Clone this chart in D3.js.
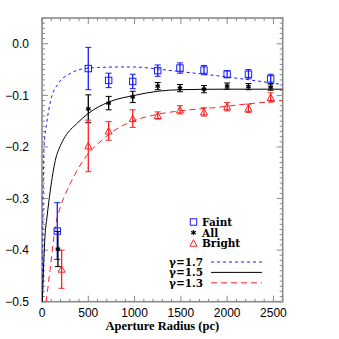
<!DOCTYPE html>
<html>
<head>
<meta charset="utf-8">
<script src="https://cdn.jsdelivr.net/npm/d3@7"></script>
<style>
  body { margin: 0; background: #fff; }
  svg { display: block; }
</style>
</head>
<body>
<script>
const WIDTH = 339;
const HEIGHT = 339;

// measured points: aperture radius (pc), value, error
const faintR = [165, 500, 720, 980, 1250, 1490, 1750, 2000, 2230, 2470];
const faintV = [-0.363, -0.048, -0.071, -0.073, -0.052, -0.047, -0.051, -0.059, -0.059, -0.068];
const faintE = [0.055, 0.041, 0.014, 0.014, 0.011, 0.010, 0.009, 0.007, 0.009, 0.009];

const allR = [172, 500, 720, 980, 1250, 1490, 1750, 2000, 2230, 2470];
const allV = [-0.398, -0.126, -0.115, -0.103, -0.082, -0.086, -0.088, -0.082, -0.083, -0.084];
const allE = [0.034, 0.027, 0.013, 0.011, 0.007, 0.007, 0.007, 0.006, 0.006, 0.006];

const brightR = [212, 500, 720, 980, 1250, 1490, 1750, 2000, 2230, 2470];
const brightV = [-0.437, -0.198, -0.169, -0.145, -0.139, -0.128, -0.132, -0.122, -0.125, -0.104];
const brightE = [0.037, 0.050, 0.018, 0.017, 0.007, 0.008, 0.008, 0.008, 0.008, 0.009];

// model curves
const g17R = [5, 8, 12, 22, 50, 94, 176, 302, 428, 600, 800, 1000, 1250, 1500, 1850, 2200, 2600];
const g17V = [-0.5, -0.4, -0.3, -0.2, -0.155, -0.110, -0.077, -0.058, -0.049, -0.046, -0.045, -0.045, -0.049, -0.054, -0.061, -0.069, -0.079];

const g15R = [4, 20, 32, 54, 90, 144, 200, 250, 374, 500, 720, 1000, 1250, 1500, 2000, 2600];
const g15V = [-0.5, -0.42, -0.374, -0.336, -0.284, -0.226, -0.197, -0.180, -0.155, -0.135, -0.113, -0.100, -0.092, -0.089, -0.088, -0.088];

const g13R = [45, 86, 144, 197, 269, 359, 485, 647, 733, 950, 1240, 1490, 1850, 2200, 2600];
const g13V = [-0.5, -0.44, -0.355, -0.317, -0.285, -0.252, -0.216, -0.187, -0.174, -0.152, -0.137, -0.130, -0.124, -0.117, -0.110];

const xTicks = [0, 500, 1000, 1500, 2000, 2500];
const yTicks = [0.0, -0.1, -0.2, -0.3, -0.4, -0.5];

const BLUE = "#1a1aff", RED = "#ff2020", BLACK = "#000";
const FRAME = "#8a8a8a";

const svg = d3.select("body").append("svg").attr("width", WIDTH).attr("height", HEIGHT);

const X0 = 42, X1 = 282.7, Y0 = 18, Y1 = 301.7;
const x = d3.scaleLinear().domain([0, 2600]).range([X0, X1]);
const y = d3.scaleLinear().domain([-0.5, 0.05]).range([Y1, Y0]);

svg.append("defs").append("clipPath").attr("id", "plotclip")
  .append("rect").attr("x", X0).attr("y", Y0).attr("width", X1 - X0).attr("height", Y1 - Y0);

// frame + ticks
const axisG = svg.append("g").attr("stroke", FRAME).attr("stroke-width", 1);
axisG.append("rect").attr("x", X0).attr("y", Y0).attr("width", X1 - X0).attr("height", Y1 - Y0)
  .attr("fill", "none").attr("stroke-width", 1.6);

d3.range(0, 2601, 100).forEach(function(v) {
  const len = (v % 500 == 0) ? 6 : 3;
  axisG.append("line").attr("x1", x(v)).attr("x2", x(v)).attr("y1", Y1).attr("y2", Y1 - len);
  axisG.append("line").attr("x1", x(v)).attr("x2", x(v)).attr("y1", Y0).attr("y2", Y0 + len);
});
d3.range(-50, 6).forEach(function(i) {
  const v = i / 100;
  const len = (i % 10 == 0) ? 6 : 3;
  axisG.append("line").attr("y1", y(v)).attr("y2", y(v)).attr("x1", X0).attr("x2", X0 + len);
  axisG.append("line").attr("y1", y(v)).attr("y2", y(v)).attr("x1", X1).attr("x2", X1 - len);
});

// tick labels
svg.append("g").selectAll("text").data(xTicks).enter().append("text")
  .attr("x", function(d) { return x(d); })
  .attr("y", Y1 + 14.8)
  .attr("text-anchor", "middle")
  .attr("font-family", "Liberation Sans, Arial, sans-serif")
  .attr("font-size", 12)
  .text(function(d) { return d; });

svg.append("g").selectAll("text").data(yTicks).enter().append("text")
  .attr("x", X0 - 13)
  .attr("y", function(d) { return y(d) + 4.3; })
  .attr("text-anchor", "end")
  .attr("font-family", "Liberation Sans, Arial, sans-serif")
  .attr("font-size", 12)
  .text(function(d) { return d3.format(".1f")(d).replace("-", "\u2212"); });

svg.append("text")
  .attr("x", (X0 + X1) / 2)
  .attr("y", 330)
  .attr("text-anchor", "middle")
  .attr("font-family", "Liberation Serif, serif")
  .attr("font-size", 12.5)
  .attr("font-weight", "bold")
  .text("Aperture Radius (pc)");

// y title, mostly outside the window as in the source figure
svg.append("text")
  .attr("transform", "translate(-3," + ((Y0 + Y1) / 2) + ") rotate(-90)")
  .attr("text-anchor", "middle")
  .attr("font-family", "DejaVu Serif, serif")
  .attr("font-size", 12)
  .text("log [f(<R)] \u2212 log [f(tot)]");

// model curves
const plot = svg.append("g").attr("clip-path", "url(#plotclip)");
const line = d3.line().x(function(d) { return x(d[0]); }).y(function(d) { return y(d[1]); }).curve(d3.curveMonotoneX);

plot.append("path").datum(d3.zip(g17R, g17V)).attr("d", line)
  .attr("fill", "none").attr("stroke", BLUE).attr("stroke-width", 1).attr("stroke-dasharray", "3,3");
plot.append("path").datum(d3.zip(g15R, g15V)).attr("d", line)
  .attr("fill", "none").attr("stroke", BLACK).attr("stroke-width", 1);
plot.append("path").datum(d3.zip(g13R, g13V)).attr("d", line)
  .attr("fill", "none").attr("stroke", RED).attr("stroke-width", 1).attr("stroke-dasharray", "6,4");

// error bars + markers
function errorBars(rs, vs, es, color) {
  const g = plot.append("g").attr("stroke", color).attr("stroke-width", 1).attr("fill", "none");
  rs.forEach(function(r, i) {
    const cx = x(r), y1 = y(vs[i] + es[i]), y2 = y(vs[i] - es[i]);
    g.append("line").attr("x1", cx).attr("x2", cx).attr("y1", y1).attr("y2", y2).attr("stroke-width", 1.3);
    g.append("line").attr("x1", cx - 3).attr("x2", cx + 3).attr("y1", y1).attr("y2", y1);
    g.append("line").attr("x1", cx - 3).attr("x2", cx + 3).attr("y1", y2).attr("y2", y2);
  });
}
errorBars(faintR, faintV, faintE, BLUE);
errorBars(allR, allV, allE, BLACK);
errorBars(brightR, brightV, brightE, RED);

function square(g, cx, cy, color) {
  g.append("rect").attr("x", cx - 3.2).attr("y", cy - 3.2).attr("width", 6.4).attr("height", 6.4)
    .attr("fill", "none").attr("stroke", color).attr("stroke-width", 1);
}
function star(g, cx, cy, color) {
  const s = 2.6;
  [[0, s], [s * 0.87, s * 0.5], [s * 0.87, -s * 0.5]].forEach(function(p) {
    g.append("line").attr("x1", cx - p[0]).attr("y1", cy - p[1]).attr("x2", cx + p[0]).attr("y2", cy + p[1])
      .attr("stroke", color).attr("stroke-width", 1.3);
  });
}
function triangle(g, cx, cy, color) {
  g.append("path").attr("d", "M" + (cx - 3.5) + "," + (cy + 3) + "L" + (cx + 3.5) + "," + (cy + 3) + "L" + cx + "," + (cy - 3.5) + "Z")
    .attr("fill", "none").attr("stroke", color).attr("stroke-width", 1);
}

faintR.forEach(function(r, i) { square(plot, x(r), y(faintV[i]), BLUE); });
allR.forEach(function(r, i) { star(plot, x(r), y(allV[i]), BLACK); });
brightR.forEach(function(r, i) { triangle(plot, x(r), y(brightV[i]), RED); });

// legend
const leg = svg.append("g").attr("font-family", "DejaVu Serif, serif").attr("font-size", 10.5).attr("font-weight", "bold");
const symRows = [["Faint", BLUE, square], ["All", BLACK, star], ["Bright", RED, triangle]];
symRows.forEach(function(row, i) {
  const cy = 222 + i * 10.6;
  row[2](leg, 193.5, cy, row[1]);
  leg.append("text").attr("x", 202).attr("y", cy + 4).text(row[0]);
});

const lineRows = [["\u03b3=1.7", BLUE, "3,3"], ["\u03b3=1.5", BLACK, null], ["\u03b3=1.3", RED, "6,4"]];
lineRows.forEach(function(row, i) {
  const cy = 262 + i * 10.4;
  leg.append("text").attr("x", 203).attr("y", cy + 4).attr("text-anchor", "end").text(row[0]);
  leg.append("line").attr("x1", 211).attr("x2", 262).attr("y1", cy).attr("y2", cy)
    .attr("stroke", row[1]).attr("stroke-width", 1).attr("stroke-dasharray", row[2]);
});
</script>
</body>
</html>
